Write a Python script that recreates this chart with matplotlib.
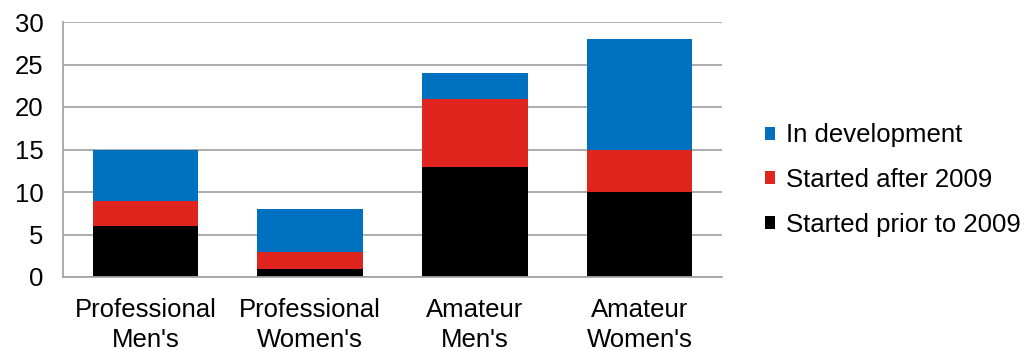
import numpy as np
import matplotlib
matplotlib.use('Agg')
import matplotlib.pyplot as plt

categories = ["Professional\nMen's", "Professional\nWomen's", "Amateur\nMen's", "Amateur\nWomen's"]
prior_2009 = [6, 1, 13, 10]
after_2009 = [3, 2, 8, 5]
in_development = [6, 5, 3, 13]

plt.rcParams['font.family'] = ['Liberation Sans', 'DejaVu Sans']

fig = plt.figure(figsize=(10.29, 3.51), dpi=100)
ax = fig.add_axes([63 / 1029, 1 - 277 / 351, (722 - 63) / 1029, (277 - 22) / 351])

x = np.arange(len(categories))
w = 0.64
bottom1 = np.array(prior_2009)
bottom2 = bottom1 + np.array(after_2009)
ax.bar(x, prior_2009, w, color='#000000', label='Started prior to 2009', zorder=2)
ax.bar(x, after_2009, w, bottom=bottom1, color='#E0241E', label='Started after 2009', zorder=2)
ax.bar(x, in_development, w, bottom=bottom2, color='#0070C0', label='In development', zorder=2)

ax.set_xlim(-0.5, len(categories) - 0.5)
ax.set_ylim(0, 30)
ax.set_yticks(range(0, 31, 5))
ax.yaxis.grid(True, color='#A6A6A6', linewidth=1.3)
ax.set_axisbelow(True)
ax.set_xticks(x)
ax.set_xticklabels(categories, fontsize=18.5, linespacing=1.35)
ax.tick_params(axis='y', labelsize=18.5, length=0, pad=14)
ax.tick_params(axis='x', length=0, pad=15)
for s in ['top', 'right']:
    ax.spines[s].set_visible(False)
for s in ['left', 'bottom']:
    ax.spines[s].set_color('#A6A6A6')
    ax.spines[s].set_linewidth(1.3)

handles, labels = ax.get_legend_handles_labels()
fig.legend(handles[::-1], labels[::-1], loc='center left',
           bbox_to_anchor=(765 / 1029, 1 - 180 / 351),
           frameon=False, fontsize=18.5, handlelength=0.4, handleheight=0.4,
           handletextpad=0.4, labelspacing=0.8, borderpad=0, borderaxespad=0)

fig.savefig('out.png', dpi=100)
